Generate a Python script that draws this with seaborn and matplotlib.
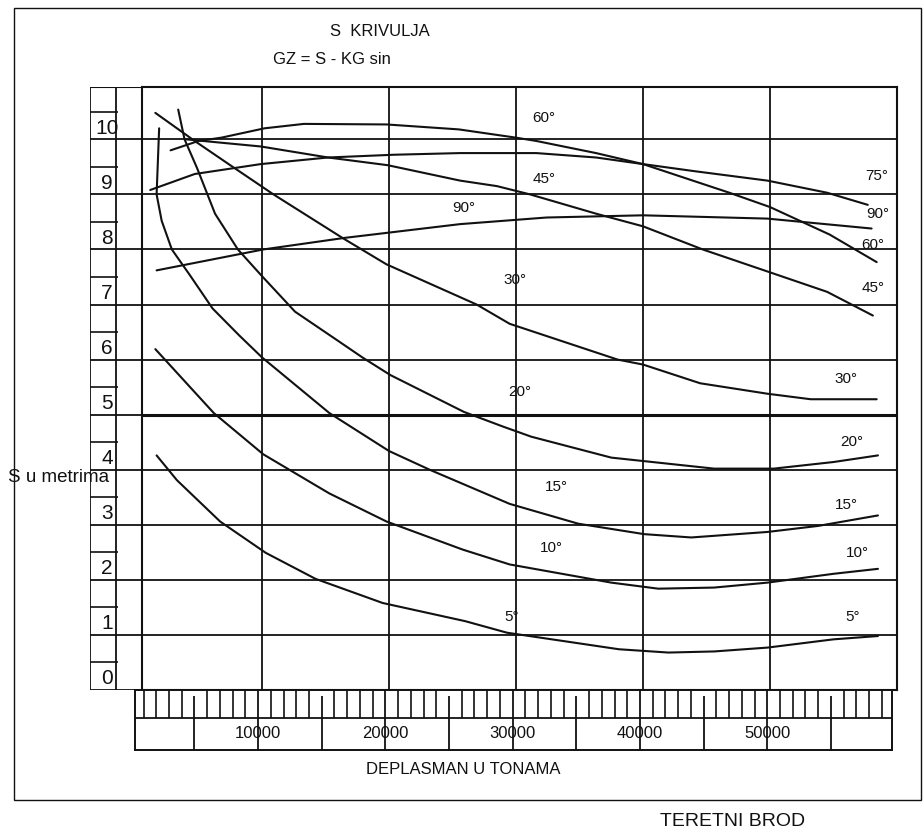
import matplotlib
matplotlib.use("Agg")
import numpy as np
import pandas as pd
import matplotlib.pyplot as plt
import seaborn as sns
from matplotlib.patches import Rectangle

sns.set_theme(style="white")
plt.rcParams["font.family"] = ["Liberation Sans", "DejaVu Sans"]

# S curves: displacement in tonnes, S in metres
x_5 = [1700, 3300, 6700, 10300, 14200, 19500, 26000, 29300, 38100, 42000, 45600, 49800, 55000, 58500]
s_5 = [4.26, 3.81, 3.06, 2.49, 2.02, 1.58, 1.25, 1.04, 0.74, 0.68, 0.70, 0.77, 0.92, 0.98]

x_10 = [1600, 6200, 10100, 15300, 19800, 25800, 29500, 37500, 41200, 45600, 49800, 55000, 58500]
s_10 = [6.19, 5.03, 4.28, 3.57, 3.06, 2.55, 2.28, 1.95, 1.84, 1.86, 1.95, 2.11, 2.20]

x_15 = [1900, 1700, 2100, 2900, 4300, 6100, 8200, 10000, 15300, 20000, 23200, 29500,
        34900, 40100, 43800, 49800, 53800, 58500]
s_15 = [10.2, 9.0, 8.52, 8.0, 7.54, 6.93, 6.44, 6.04, 5.03, 4.34, 4.0, 3.38,
        3.02, 2.83, 2.77, 2.87, 2.98, 3.17]

x_20 = [3400, 3900, 4900, 6300, 8100, 9900, 12600, 15800, 17900, 20100, 25900, 28900,
        31200, 37500, 45600, 50300, 55000, 58500]
s_20 = [10.54, 10.0, 9.47, 8.65, 8.0, 7.54, 6.87, 6.37, 6.04, 5.72, 5.05, 4.79,
        4.6, 4.22, 4.02, 4.02, 4.14, 4.26]

x_30 = [1600, 4700, 7500, 10900, 16400, 19800, 26900, 29500, 38000, 40000, 44500, 49800, 53200, 58400]
s_30 = [10.48, 9.97, 9.53, 9.0, 8.2, 7.73, 7.0, 6.65, 6.0, 5.91, 5.57, 5.38, 5.28, 5.28]

x_45 = [4000, 9900, 15200, 19900, 25600, 28500, 31100, 36300, 40000, 44700, 49800, 54500, 58100]
s_45 = [10.0, 9.87, 9.67, 9.53, 9.25, 9.15, 9.0, 8.65, 8.42, 8.0, 7.6, 7.23, 6.8]

x_60 = [2800, 5000, 6800, 10200, 13300, 19800, 25500, 30000, 31600, 36300, 40000, 46800,
        50000, 54700, 58400]
s_60 = [9.8, 9.97, 10.03, 10.2, 10.28, 10.27, 10.18, 10.03, 9.97, 9.75, 9.55, 9.03,
        8.77, 8.27, 7.77]

x_75 = [1200, 4700, 9900, 15200, 20400, 25600, 31600, 36300, 40000, 44100, 49800, 54500, 57700]
s_75 = [9.08, 9.37, 9.55, 9.67, 9.72, 9.75, 9.75, 9.67, 9.55, 9.42, 9.25, 9.03, 8.81]

x_90 = [1700, 10100, 16500, 25600, 32400, 40000, 49800, 58000]
s_90 = [7.62, 8.0, 8.21, 8.46, 8.58, 8.62, 8.56, 8.38]

angles = [5, 10, 15, 20, 30, 45, 60, 75, 90]
xs_all = [x_5, x_10, x_15, x_20, x_30, x_45, x_60, x_75, x_90]
ss_all = [s_5, s_10, s_15, s_20, s_30, s_45, s_60, s_75, s_90]

x_ticks = [10000, 20000, 30000, 40000, 50000]
y_ticks = list(range(0, 11))

frames = []
for ang, xs, ss in zip(angles, xs_all, ss_all):
    frames.append(pd.DataFrame({"deplasman": xs, "S": ss, "kut": f"{ang}°"}))
df = pd.concat(frames, ignore_index=True)

W, H = 924, 831
INK = "#111111"


def box(x0, y0, x1, y1):
    # pixel box (top-left origin) -> figure fraction rect
    return [x0 / W, 1 - y1 / H, (x1 - x0) / W, (y1 - y0) / H]


fig = plt.figure(figsize=(W / 100, H / 100), dpi=100)
fig.patch.set_facecolor("white")

# main plot
ax = fig.add_axes(box(142, 87, 897, 690))
sns.lineplot(data=df, x="deplasman", y="S", hue="kut", palette=[INK] * len(angles),
             sort=False, estimator=None, lw=1.5, legend=False, ax=ax)
ax.set_xlim(550, 60000)
ax.set_ylim(0, 10.95)
ax.set_xticks(x_ticks)
ax.set_yticks(y_ticks[1:])
ax.grid(True, color=INK, lw=1.3)
ax.axhline(5, color=INK, lw=2.2)
ax.tick_params(length=0, labelbottom=False, labelleft=False)
ax.set_xlabel("")
ax.set_ylabel("")
for sp in ax.spines.values():
    sp.set_color(INK)
    sp.set_linewidth(1.5)

# angle labels in the middle and at the right end
mid_labels = {60: (31300, 10.38), 45: (31300, 9.28), 90: (25000, 8.75), 30: (29000, 7.45),
              20: (29400, 5.42), 15: (32300, 3.68), 10: (31900, 2.58), 5: (29100, 1.33)}
end_labels = {75: (57500, 9.33), 90: (57600, 8.65), 60: (57200, 8.08), 45: (57200, 7.3),
              30: (55100, 5.65), 20: (55500, 4.5), 15: (55100, 3.36), 10: (56000, 2.48),
              5: (55900, 1.33)}
for labels in (mid_labels, end_labels):
    for ang, (lx, ly) in labels.items():
        ax.text(lx, ly, f"{ang}°", ha="left", va="center", fontsize=11, color=INK)

# vertical ruler on the left
axl = fig.add_axes(box(90, 87, 142, 690))
axl.set_xlim(0, 1)
axl.set_ylim(0, 10.95)
axl.axis("off")
axl.hlines(y_ticks, 0, 1, color=INK, lw=1.3)
axl.hlines(np.arange(0.5, 11, 1.0), 0, 0.54, color=INK, lw=1.2)
axl.vlines([0.0, 0.5], -0.2, 10.95, color=INK, lw=1.3)
axl.hlines(10.95, 0, 1, color=INK, lw=1.5)
for v in y_ticks:
    axl.text(0.33, v + 0.03, str(v), ha="center", va="bottom", fontsize=15, color=INK)

# displacement ruler under the plot
axb = fig.add_axes(box(135, 690, 892, 750))
axb.set_xlim(330, 59800)
axb.set_ylim(0, 1)
axb.set_xticks([])
axb.set_yticks([])
for sp in axb.spines.values():
    sp.set_color(INK)
    sp.set_linewidth(1.4)
axb.axhline(0.533, color=INK, lw=1.3)
minor = [v for v in range(1000, 60000, 1000) if v % 5000]
axb.vlines(minor, 0.533, 1, color=INK, lw=1.2)
axb.vlines([v for v in range(5000, 60000, 10000)], 0, 0.9, color=INK, lw=1.3)
axb.vlines(x_ticks, 0, 1, color=INK, lw=1.3)
for v in x_ticks:
    axb.text(v, 0.27, str(v), ha="center", va="center", fontsize=12, color=INK)

# texts
fig.text(380 / W, 1 - 32 / H, "S  KRIVULJA", ha="center", va="center", fontsize=12, color=INK)
fig.text(273 / W, 1 - 60 / H, "GZ = S - KG sin", ha="left", va="center", fontsize=12, color=INK)
fig.text(8 / W, 1 - 478 / H, "S u metrima", ha="left", va="center", fontsize=13.5,
         color=INK, zorder=10)
fig.text(463 / W, 1 - 770 / H, "DEPLASMAN U TONAMA", ha="center", va="center",
         fontsize=12, color=INK)
fig.text(733 / W, 1 - 822 / H, "TERETNI BROD", ha="center", va="center", fontsize=14, color=INK)

# outer frame of the drawing
fig.add_artist(Rectangle((14 / W, 1 - 800 / H), (921 - 14) / W, (800 - 8) / H,
                         transform=fig.transFigure, fill=False, ec=INK, lw=1.0))

fig.savefig("out.png", dpi=100, facecolor="white")
